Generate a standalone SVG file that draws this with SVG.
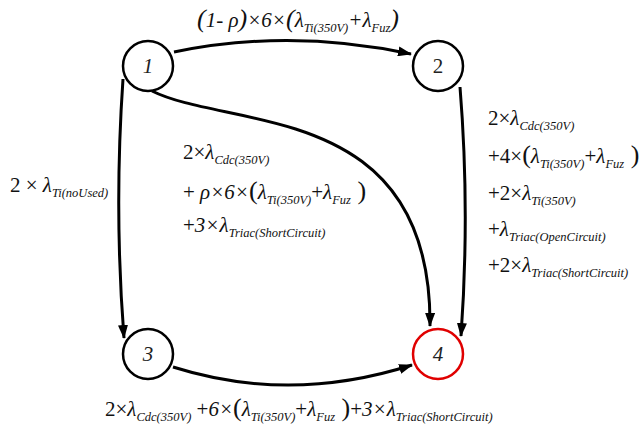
<svg xmlns="http://www.w3.org/2000/svg" width="640" height="432" viewBox="0 0 640 432">
<defs>
<marker id="ah" viewBox="0 0 14 10" refX="13" refY="5" markerWidth="14" markerHeight="10" markerUnits="userSpaceOnUse" orient="auto">
<path d="M0,0 L14,5 L0,10 z" fill="#000"/>
</marker>
<style>
.node{fill:#fff;stroke:#000;stroke-width:2.5}
.red{stroke:#e00000}
.edge{fill:none;stroke:#000;stroke-width:3;marker-end:url(#ah)}
.nl{font-family:'Liberation Serif',serif;font-style:italic;font-size:21px;text-anchor:middle;fill:#222}
.t{font-family:'Liberation Serif',serif;font-size:21px;fill:#111}
.i{font-style:italic}
.s{font-size:12.5px;font-style:italic}
.p{font-size:26px}
</style>
</defs>
<rect width="640" height="432" fill="#fff"/>
<g id="edges">
<path class="edge" d="M174,52 Q290,28 411,54"/>
<path class="edge" d="M123,79 Q114,210 124,338"/>
<path class="edge" d="M152,91 C230,130 432,100 430,326"/>
<path class="edge" d="M460,87 Q470,210 461,336"/>
<path class="edge" d="M173,367 Q290,404 412,365"/>
</g>
<g id="node1"><circle class="node" cx="148" cy="66" r="25"/><text class="nl" x="148" y="73">1</text></g>
<g id="node2"><circle class="node" cx="438" cy="66" r="25"/><text class="nl" x="438" y="73" style="font-style:normal">2</text></g>
<g id="node3"><circle class="node" cx="148" cy="354" r="25"/><text class="nl" x="148" y="361">3</text></g>
<g id="node4"><circle class="node red" cx="438" cy="354" r="25"/><text class="nl" x="438" y="361">4</text></g>
<g id="labels">
<text class="t i" x="197" y="27"><tspan class="p">(</tspan>1- ρ<tspan class="p">)</tspan>×6×<tspan class="p">(</tspan>λ<tspan class="s" dy="5">Ti(350V)</tspan><tspan dy="-5">+λ</tspan><tspan class="s" dy="5">Fuz</tspan><tspan class="p" dy="-5">)</tspan></text>
<text class="t" x="10" y="192">2 × <tspan class="i">λ</tspan><tspan class="s" dy="5">Ti(noUsed)</tspan></text>
<text class="t" x="183" y="159">2×<tspan class="i">λ</tspan><tspan class="s" dy="5">Cdc(350V)</tspan></text>
<text class="t" x="183" y="199">+ <tspan class="i">ρ×6×</tspan><tspan class="p">(</tspan><tspan class="i">λ</tspan><tspan class="s" dy="5">Ti(350V)</tspan><tspan dy="-5">+</tspan><tspan class="i">λ</tspan><tspan class="s" dy="5">Fuz</tspan><tspan class="p" dy="-5"> )</tspan></text>
<text class="t" x="183" y="232">+<tspan class="i">3×λ</tspan><tspan class="s" dy="5">Triac(ShortCircuit)</tspan></text>
<text class="t" x="488" y="125">2×<tspan class="i">λ</tspan><tspan class="s" dy="5">Cdc(350V)</tspan></text>
<text class="t" x="488" y="163">+4×<tspan class="p">(</tspan><tspan class="i">λ</tspan><tspan class="s" dy="5">Ti(350V)</tspan><tspan dy="-5">+</tspan><tspan class="i">λ</tspan><tspan class="s" dy="5">Fuz</tspan><tspan class="p" dy="-5"> )</tspan></text>
<text class="t" x="488" y="200">+2×<tspan class="i">λ</tspan><tspan class="s" dy="5">Ti(350V)</tspan></text>
<text class="t" x="488" y="236">+<tspan class="i">λ</tspan><tspan class="s" dy="5">Triac(OpenCircuit)</tspan></text>
<text class="t" x="488" y="272">+2×<tspan class="i">λ</tspan><tspan class="s" dy="5">Triac(ShortCircuit)</tspan></text>
<text class="t" x="105" y="416">2×<tspan class="i">λ</tspan><tspan class="s" dy="5">Cdc(350V)</tspan><tspan dy="-5"> +</tspan><tspan class="i">6×</tspan><tspan class="p">(</tspan><tspan class="i">λ</tspan><tspan class="s" dy="5">Ti(350V)</tspan><tspan dy="-5">+</tspan><tspan class="i">λ</tspan><tspan class="s" dy="5">Fuz</tspan><tspan class="p" dy="-5"> )</tspan>+<tspan class="i">3×λ</tspan><tspan class="s" dy="5">Triac(ShortCircuit)</tspan></text>
</g>
</svg>
